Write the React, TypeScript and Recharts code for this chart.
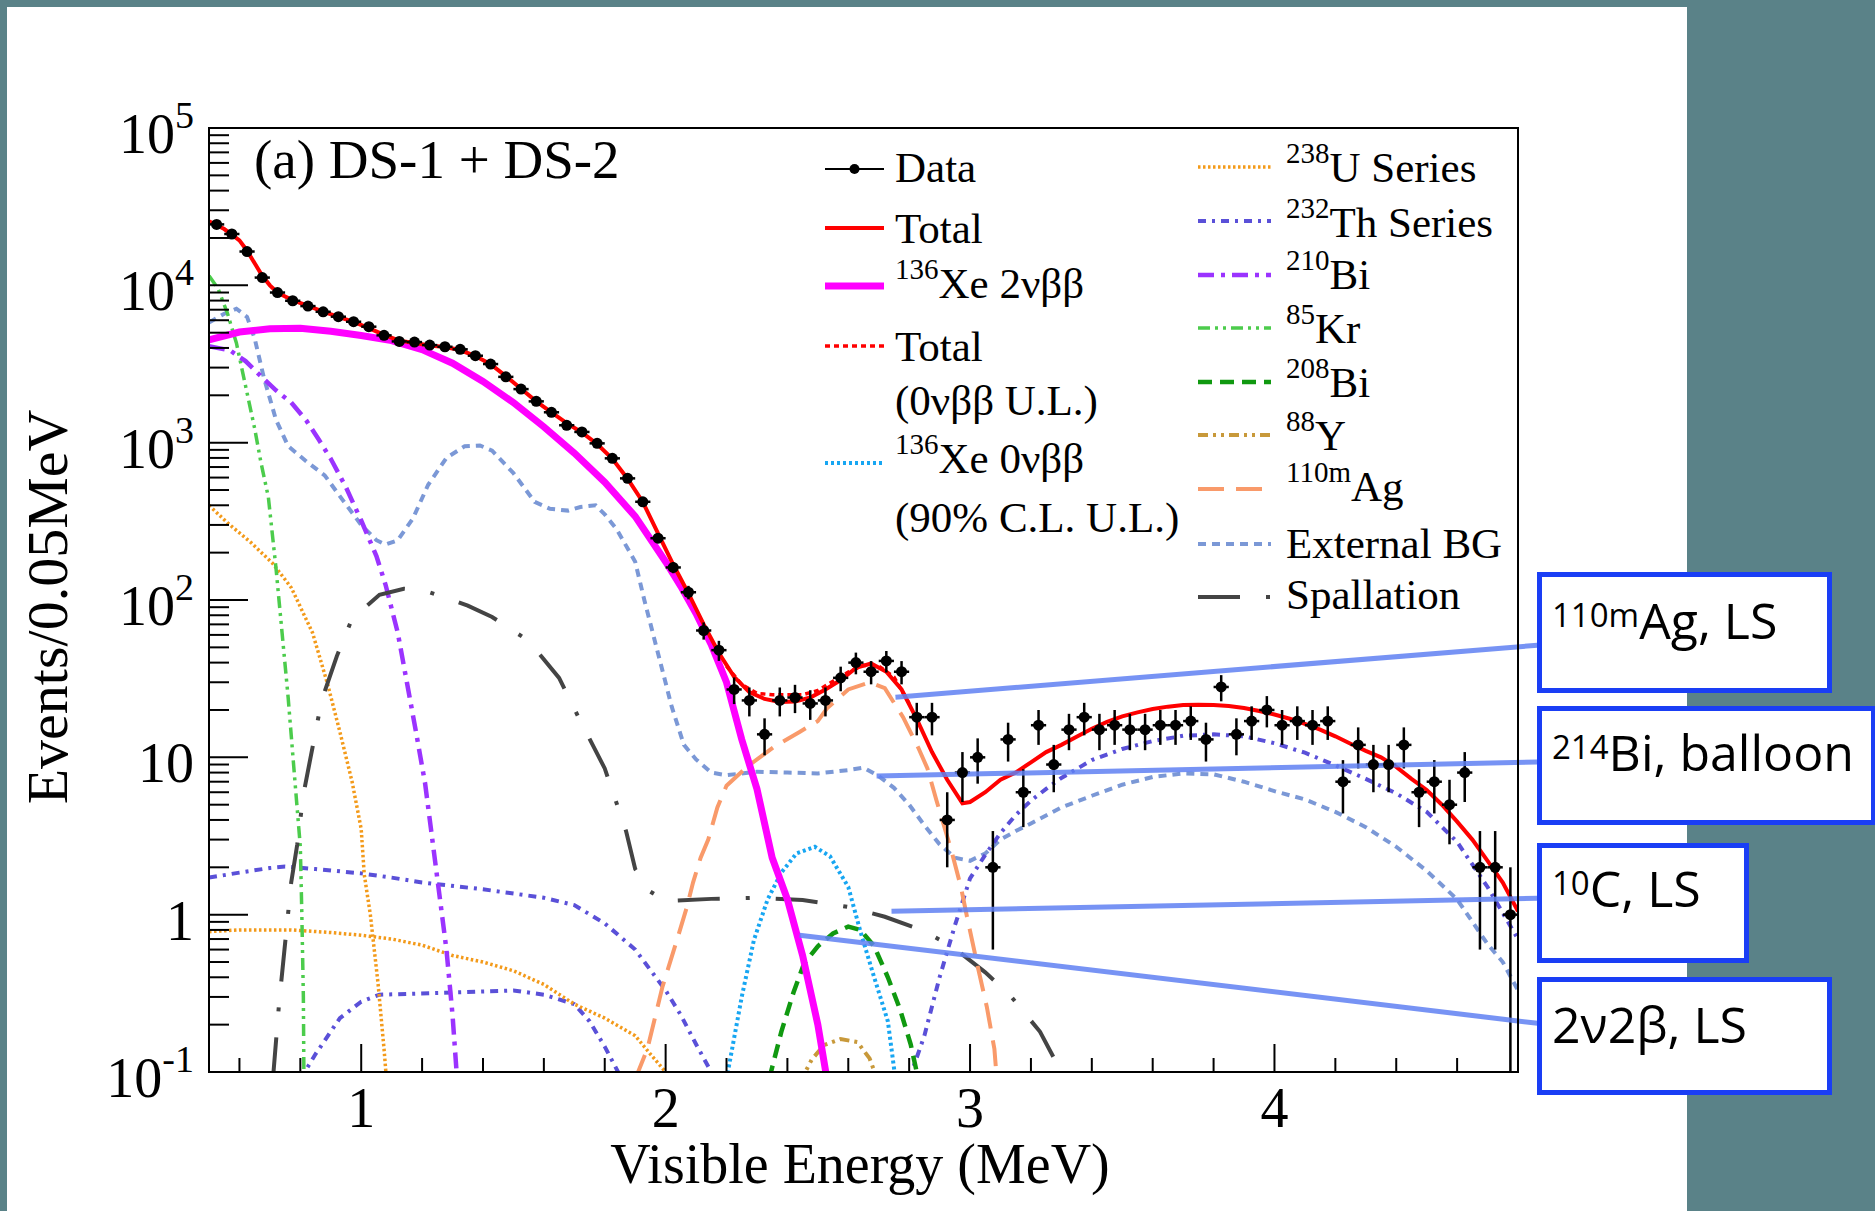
import React from "react";
import { ComposedChart, Line, Scatter, ErrorBar, XAxis, YAxis, ReferenceLine } from "recharts";

const SERIF = '"Liberation Serif", "Times New Roman", serif';
const SANS = '"Open Sans", "Noto Sans", sans-serif';
const TEAL = "#5a8288";

// axis ticks
const xMajor = [1, 2, 3, 4];
const xTicks = [0.6, 0.8, 1, 1.2, 1.4, 1.6, 1.8, 2, 2.2, 2.4, 2.6, 2.8, 3, 3.2, 3.4, 3.6, 3.8, 4, 4.2, 4.4, 4.6];
const yDecades = [0.1, 1, 10, 100, 1000, 10000, 100000];
const yMinor = [2, 3, 4, 5, 6, 7, 8, 9];
const yTicks = yDecades.flatMap((d, i) =>
  i === yDecades.length - 1 ? [d] : [d, ...yMinor.map((m) => +(d * m).toPrecision(3))]
);

// data points (bin centres, counts, errors)
const dataE = [
  0.525, 0.575, 0.625, 0.675, 0.725, 0.775, 0.825, 0.875, 0.925, 0.975,
  1.025, 1.075, 1.125, 1.175, 1.225, 1.275, 1.325, 1.375, 1.425, 1.475,
  1.525, 1.575, 1.625, 1.675, 1.725, 1.775, 1.825, 1.875, 1.925, 1.975,
  2.025, 2.075, 2.125, 2.175, 2.225, 2.275, 2.325, 2.375, 2.425, 2.475,
  2.525, 2.575, 2.625, 2.675, 2.725, 2.775, 2.825, 2.875, 2.925, 2.975,
  3.025, 3.075, 3.125, 3.175, 3.225, 3.275, 3.325, 3.375, 3.425, 3.475,
  3.525, 3.575, 3.625, 3.675, 3.725, 3.775, 3.825, 3.875, 3.925, 3.975,
  4.025, 4.075, 4.125, 4.175, 4.225, 4.275, 4.325, 4.375, 4.425, 4.475,
  4.525, 4.575, 4.625, 4.675, 4.725, 4.775,
];
const dataN = [
  24400, 21200, 16400, 11200, 9000, 7980, 7380, 6790, 6320, 5870,
  5460, 4810, 4400, 4360, 4170, 4070, 3920, 3570, 3160, 2620,
  2190, 1830, 1560, 1290, 1170, 990, 795, 593, 421, 247,
  161, 112, 64, 48, 27, 23, 14, 23, 24, 22,
  23, 32, 40, 35, 41, 35, 18, 18, 4, 8,
  10, 2, 13, 6, 16, 9, 15, 18, 15, 16,
  15, 15, 16, 16, 17, 13, 28, 14, 17, 20,
  16, 17, 16, 17, 7, 12, 9, 9, 12, 6,
  7, 5, 8, 2, 2, 1,
];
const dataErr = [
  156, 146, 128, 106, 95, 89, 86, 82, 80, 77,
  74, 69, 66, 66, 65, 64, 63, 60, 56, 51,
  47, 43, 39, 36, 34, 31, 28, 24, 21, 16,
  13, 11, 8, 7, 5.2, 4.8, 3.7, 4.8, 4.9, 4.7,
  4.8, 5.7, 6.3, 5.9, 6.4, 5.9, 4.2, 4.2, 2, 2.8,
  3.2, 1.4, 3.6, 2.4, 4, 3, 3.9, 4.2, 3.9, 4,
  3.9, 3.9, 4, 4, 4.1, 3.6, 5.3, 3.7, 4.1, 4.5,
  4, 4.1, 4, 4.1, 2.6, 3.5, 3, 3, 3.5, 2.4,
  2.6, 2.2, 2.8, 1.4, 1.4, 1,
];
const BIN_HALF = 0.025;

// model curves [E, events]
const total = [
  [0.5, 25500], [0.525, 24200], [0.55, 22800], [0.575, 21000], [0.6, 19300], [0.625, 16600], [0.65, 13800],
  [0.675, 11500], [0.7, 10000], [0.725, 9000], [0.75, 8500], [0.775, 8050], [0.825, 7400], [0.875, 6800],
  [0.925, 6300], [0.975, 5850], [1.025, 5350], [1.075, 4850], [1.125, 4450], [1.175, 4300], [1.225, 4150],
  [1.275, 4050], [1.325, 3880], [1.375, 3550], [1.425, 3150], [1.475, 2650], [1.525, 2200], [1.575, 1830],
  [1.625, 1560], [1.675, 1330], [1.725, 1160], [1.775, 980], [1.825, 790], [1.875, 590], [1.925, 420],
  [1.975, 265], [2.025, 168], [2.075, 110], [2.125, 70], [2.175, 46], [2.225, 32.5], [2.275, 26],
  [2.325, 23.5], [2.375, 22.5], [2.425, 22.6], [2.475, 24], [2.525, 27], [2.575, 31], [2.625, 37],
  [2.675, 39.5], [2.725, 35], [2.775, 27], [2.825, 17.5], [2.875, 10.8], [2.925, 7.2], [2.975, 5.1],
  [3.0, 5.2], [3.05, 6.0], [3.1, 7.2], [3.15, 8.0], [3.2, 9.3], [3.25, 10.8], [3.3, 12.0], [3.35, 13.5],
  [3.4, 15.2], [3.45, 16.8], [3.5, 18.2], [3.55, 19.3], [3.6, 20.3], [3.65, 21.0], [3.7, 21.5], [3.75, 21.6],
  [3.8, 21.5], [3.85, 21.2], [3.9, 20.6], [3.95, 19.7], [4.0, 18.7], [4.05, 17.6], [4.1, 16.3], [4.15, 15.0],
  [4.2, 13.6], [4.25, 12.2], [4.3, 11.0], [4.35, 10.0], [4.4, 8.7], [4.45, 7.3], [4.5, 6.2], [4.55, 5.0],
  [4.6, 3.9], [4.65, 3.0], [4.7, 2.2], [4.75, 1.6], [4.8, 1.05],
];
const totalUL = [
  [2.2, 38], [2.25, 29], [2.3, 25.5], [2.35, 25], [2.4, 25], [2.45, 25], [2.5, 26.6], [2.55, 30.5],
  [2.6, 34.8], [2.65, 38.5], [2.7, 38], [2.75, 32.4], [2.8, 22],
];
const xe2nu = [
  [0.5, 4500], [0.6, 5050], [0.7, 5300], [0.8, 5330], [0.9, 5100], [1.0, 4800], [1.1, 4450], [1.2, 3900],
  [1.3, 3200], [1.4, 2450], [1.5, 1800], [1.6, 1260], [1.7, 860], [1.8, 560], [1.9, 340], [2.0, 175],
  [2.05, 122], [2.1, 82], [2.15, 52], [2.2, 30], [2.25, 13], [2.3, 6.3], [2.35, 2.3], [2.4, 1.25],
  [2.45, 0.55], [2.5, 0.2], [2.53, 0.09],
];
const xe0nu = [
  [2.2, 0.09], [2.25, 0.3], [2.29, 0.69], [2.335, 1.25], [2.38, 1.85], [2.43, 2.45], [2.49, 2.7],
  [2.54, 2.35], [2.6, 1.5], [2.64, 0.78], [2.68, 0.43], [2.73, 0.21], [2.755, 0.09],
];
const u238High = [
  [0.5, 400], [0.56, 310], [0.64, 230], [0.71, 170], [0.77, 120], [0.84, 62], [0.89, 29], [0.93, 14.5],
  [0.97, 7], [1.0, 3.5], [1.01, 1.8], [1.03, 1.0], [1.055, 0.37], [1.075, 0.14], [1.085, 0.08],
];
const u238Low = [
  [0.5, 0.78], [0.6, 0.8], [0.77, 0.8], [0.9, 0.77], [1.0, 0.74], [1.1, 0.7], [1.2, 0.64], [1.3, 0.55],
  [1.4, 0.5], [1.5, 0.44], [1.6, 0.36], [1.7, 0.27], [1.8, 0.22], [1.9, 0.17], [1.95, 0.13], [2.0, 0.1],
  [2.02, 0.085],
];
const th232A = [
  [0.5, 1.72], [0.6, 1.85], [0.7, 1.98], [0.75, 2.02], [0.85, 1.95], [1.0, 1.83], [1.1, 1.72], [1.2, 1.6],
  [1.4, 1.45], [1.6, 1.28], [1.7, 1.15], [1.8, 0.88], [1.9, 0.6], [2.0, 0.33], [2.05, 0.23], [2.1, 0.15],
  [2.15, 0.1], [2.18, 0.08],
];
const th232B = [
  [0.8, 0.09], [0.85, 0.13], [0.93, 0.22], [1.0, 0.28], [1.06, 0.31], [1.3, 0.32], [1.5, 0.33], [1.6, 0.31],
  [1.7, 0.27], [1.75, 0.21], [1.8, 0.145], [1.85, 0.095],
];
const th232C = [
  [2.8, 0.09], [2.85, 0.17], [2.9, 0.4], [2.95, 0.85], [3.0, 1.7], [3.05, 2.4], [3.1, 3.3], [3.15, 4.3],
  [3.2, 5.3], [3.25, 6.3], [3.3, 7.4], [3.4, 9.6], [3.5, 11.3], [3.6, 12.7], [3.7, 13.7], [3.8, 14.0],
  [3.9, 13.6], [4.0, 12.3], [4.1, 10.7], [4.2, 8.9], [4.3, 7.3], [4.4, 5.9], [4.5, 4.5], [4.6, 2.9],
  [4.7, 1.5], [4.8, 0.7],
];
const bi210 = [
  [0.5, 4100], [0.57, 3850], [0.62, 3300], [0.67, 2650], [0.72, 2150], [0.77, 1800], [0.82, 1380],
  [0.86, 1050], [0.9, 790], [0.95, 520], [1.0, 320], [1.05, 190], [1.08, 125], [1.12, 62], [1.15, 30],
  [1.18, 14.5], [1.21, 6.8], [1.23, 3.4], [1.25, 1.7], [1.28, 0.6], [1.3, 0.23], [1.315, 0.09],
];
const kr85 = [
  [0.5, 11500], [0.53, 9500], [0.56, 6700], [0.59, 4300], [0.62, 2300], [0.65, 1230], [0.67, 760],
  [0.695, 450], [0.72, 160], [0.74, 62], [0.76, 24], [0.78, 8], [0.8, 2.7], [0.805, 1.0], [0.81, 0.3],
  [0.812, 0.08],
];
const bi208 = [
  [2.34, 0.09], [2.38, 0.18], [2.42, 0.32], [2.455, 0.49], [2.5, 0.63], [2.55, 0.76], [2.6, 0.84],
  [2.64, 0.8], [2.685, 0.63], [2.73, 0.4], [2.77, 0.25], [2.805, 0.15], [2.83, 0.09],
];
const y88 = [
  [2.44, 0.085], [2.48, 0.12], [2.52, 0.148], [2.575, 0.162], [2.63, 0.155], [2.67, 0.122], [2.7, 0.085],
];
const ag110m = [
  [1.9, 0.09], [1.94, 0.14], [1.99, 0.35], [2.04, 0.72], [2.07, 1.12], [2.09, 1.6], [2.115, 2.3],
  [2.14, 3.0], [2.17, 4.8], [2.2, 6.6], [2.27, 8.8], [2.36, 11.8], [2.44, 14.5], [2.5, 17], [2.53, 20.5],
  [2.6, 27], [2.67, 30], [2.72, 27.5], [2.78, 18], [2.83, 11.5], [2.86, 8.5], [2.89, 5.3], [2.94, 2.5],
  [2.97, 1.5], [2.99, 0.97], [3.025, 0.47], [3.055, 0.26], [3.08, 0.14], [3.09, 0.08],
];
const externalBg = [
  [0.5, 5800], [0.55, 6600], [0.59, 7100], [0.625, 6300], [0.65, 4600], [0.68, 2600], [0.72, 1400],
  [0.76, 950], [0.82, 760], [0.88, 620], [0.94, 430], [1.0, 300], [1.05, 240], [1.08, 225], [1.12, 240],
  [1.17, 330], [1.22, 540], [1.28, 800], [1.34, 950], [1.39, 960], [1.43, 890], [1.5, 640], [1.57, 420],
  [1.62, 380], [1.68, 370], [1.72, 390], [1.77, 400], [1.8, 350], [1.84, 280], [1.9, 175], [1.93, 100],
  [1.97, 50], [2.02, 21], [2.06, 12], [2.1, 9.7], [2.15, 8.0], [2.2, 7.7], [2.3, 8.1], [2.4, 8.0],
  [2.5, 7.9], [2.6, 8.3], [2.65, 8.6], [2.7, 7.6], [2.75, 6.4], [2.8, 5.0], [2.85, 3.7], [2.9, 2.8],
  [2.95, 2.3], [3.0, 2.2], [3.05, 2.45], [3.1, 3.0], [3.15, 3.4], [3.2, 3.8], [3.3, 4.8], [3.4, 5.7],
  [3.5, 6.7], [3.6, 7.5], [3.7, 7.9], [3.8, 7.8], [3.9, 7.0], [4.0, 6.1], [4.1, 5.4], [4.2, 4.5],
  [4.3, 3.6], [4.4, 2.7], [4.5, 1.9], [4.6, 1.25], [4.7, 0.65], [4.75, 0.5], [4.8, 0.33],
];
const spallation = [
  [0.71, 0.09], [0.73, 0.27], [0.77, 1.6], [0.79, 2.8], [0.81, 5.8], [0.87, 23], [0.92, 44], [0.97, 76],
  [1.06, 108], [1.14, 118], [1.2, 116], [1.28, 103], [1.35, 92], [1.43, 78], [1.55, 55], [1.65, 32],
  [1.72, 17], [1.8, 8.5], [1.87, 3.4], [1.9, 1.95], [1.95, 1.4], [2.0, 1.22], [2.15, 1.26], [2.3, 1.28],
  [2.45, 1.24], [2.6, 1.12], [2.72, 0.97], [2.84, 0.8], [2.94, 0.63], [3.05, 0.43], [3.13, 0.31],
  [3.23, 0.18], [3.3, 0.1], [3.33, 0.08],
];

// callout lines to the side boxes, in data coordinates
const calloutFrom = [[2.755, 24.1], [2.693, 7.6], [2.742, 1.05], [2.44, 0.741]];
const calloutTo = [[4.864, 51.6], [4.864, 9.33], [4.864, 1.27], [4.864, 0.204]];

const pts = (a: number[][]) => a.map(([x, y]) => ({ x, y }));
const dataPts = dataE.map((x, i) => ({
  x,
  y: dataN[i],
  ey: [Math.min(dataErr[i], dataN[i] - 0.1), dataErr[i]],
  ex: BIN_HALF,
}));

const S = {
  total: { stroke: "#ff0000", w: 4, dash: undefined },
  totalUL: { stroke: "#ff0000", w: 3.5, dash: "5 4" },
  xe2: { stroke: "#ff00ff", w: 7, dash: undefined },
  xe0: { stroke: "#17a6f2", w: 4, dash: "3 3" },
  u238: { stroke: "#f39a1a", w: 3.5, dash: "2.5 2.5" },
  th232: { stroke: "#5a50d8", w: 4, dash: "8 6 3 6" },
  bi210: { stroke: "#9b33ff", w: 4.5, dash: "16 7 4 7" },
  kr85: { stroke: "#4ccc4c", w: 3.5, dash: "12 5 3 5 3 5" },
  bi208: { stroke: "#109910", w: 4.5, dash: "14 8" },
  y88: { stroke: "#c8993a", w: 4, dash: "10 5 3 5 3 5" },
  ag110: { stroke: "#f99a6a", w: 4, dash: "26 12" },
  ext: { stroke: "#7b98d6", w: 4, dash: "8 6" },
  spall: { stroke: "#444444", w: 4, dash: "42 26 4 26" },
};

function curve(key: string, data: number[][], s: { stroke: string; w: number; dash?: string }) {
  return (
    <Line
      key={key}
      data={pts(data)}
      dataKey="y"
      type="linear"
      stroke={s.stroke}
      strokeWidth={s.w}
      strokeDasharray={s.dash}
      dot={false}
      activeDot={false}
      isAnimationActive={false}
    />
  );
}

function XTick(props: any) {
  const { x, y, payload } = props;
  const v = payload.value as number;
  const major = xMajor.includes(v);
  return (
    <g>
      <line x1={x} x2={x} y1={y} y2={y - (major ? 28 : 14)} stroke="#000" strokeWidth={2} />
      {major && (
        <text x={x} y={y + 55} textAnchor="middle" fontFamily={SERIF} fontSize={56} fill="#000">
          {v}
        </text>
      )}
    </g>
  );
}

function YTick(props: any) {
  const { x, y, payload } = props;
  const v = payload.value as number;
  const lg = Math.log10(v);
  const e = Math.round(lg);
  const major = Math.abs(lg - e) < 1e-6;
  return (
    <g>
      <line x1={x} x2={x + (major ? 39 : 20)} y1={y} y2={y} stroke="#000" strokeWidth={2} />
      {major && (
        <text x={x - 15} y={y + 25} textAnchor="end" fontFamily={SERIF} fontSize={56} fill="#000">
          {e === 0 ? "1" : "10"}
          {e !== 0 && e !== 1 && (
            <tspan fontSize={38} dy={-25}>
              {e}
            </tspan>
          )}
        </text>
      )}
    </g>
  );
}

function Lbl({ x, y, sup, text }: { x: number; y: number; sup?: string; text: string }) {
  return (
    <text x={x} y={y} fontFamily={SERIF} fontSize={43} fill="#000">
      {sup && (
        <tspan fontSize={29} dy={-19}>
          {sup}
        </tspan>
      )}
      <tspan dy={sup ? 19 : 0}>{text}</tspan>
    </text>
  );
}

function Sample({ x1, x2, y, s }: { x1: number; x2: number; y: number; s: { stroke: string; w: number; dash?: string } }) {
  return <line x1={x1} x2={x2} y1={y} y2={y} stroke={s.stroke} strokeWidth={s.w} strokeDasharray={s.dash} />;
}

const boxes = [
  { x: 1539.5, y: 574.5, w: 290, h: 116, base: 639, sup: "110m", text: "Ag, LS" },
  { x: 1539.5, y: 708.5, w: 334, h: 114, base: 771, sup: "214", text: "Bi, balloon" },
  { x: 1539.5, y: 845.5, w: 207, h: 115, base: 907, sup: "10", text: "C, LS" },
  { x: 1539.5, y: 979.5, w: 290, h: 113, base: 1043, sup: "", text: "2ν2β, LS" },
];

export default function App() {
  const c1 = 825, c1e = 884, t1 = 895;
  const c2 = 1198, c2e = 1271, t2 = 1286;
  return (
    <div style={{ position: "absolute", left: 0, top: 0, width: 1875, height: 1211, background: TEAL, overflow: "hidden" }}>
      <div style={{ position: "absolute", left: 7, top: 7, width: 1680, height: 1204, background: "#fff" }} />
      <div style={{ position: "absolute", left: 0, top: 0 }}>
        <ComposedChart width={1875} height={1211} margin={{ top: 128, right: 357, bottom: 89, left: 109 }}>
          <XAxis
            type="number"
            dataKey="x"
            domain={[0.5, 4.8]}
            allowDataOverflow
            ticks={xTicks}
            interval={0}
            height={50}
            axisLine={false}
            tickLine={false}
            tickSize={0}
            tickMargin={0}
            tick={XTick}
          />
          <YAxis
            type="number"
            scale="log"
            domain={[0.1, 100000]}
            allowDataOverflow
            ticks={yTicks}
            interval={0}
            width={100}
            axisLine={false}
            tickLine={false}
            tickSize={0}
            tickMargin={0}
            tick={YTick}
          />
          {curve("ext", externalBg, S.ext)}
          {curve("thA", th232A, S.th232)}
          {curve("thB", th232B, S.th232)}
          {curve("thC", th232C, S.th232)}
          {curve("uH", u238High, S.u238)}
          {curve("uL", u238Low, S.u238)}
          {curve("kr", kr85, S.kr85)}
          {curve("bi210", bi210, S.bi210)}
          {curve("spall", spallation, S.spall)}
          {curve("ag", ag110m, S.ag110)}
          {curve("xe0", xe0nu, S.xe0)}
          {curve("bi208", bi208, S.bi208)}
          {curve("y88", y88, S.y88)}
          {curve("xe2", xe2nu, S.xe2)}
          {curve("totUL", totalUL, S.totalUL)}
          {curve("tot", total, S.total)}
          <Scatter
            data={dataPts}
            dataKey="y"
            fill="#000"
            isAnimationActive={false}
            shape={(p: any) => <circle cx={p.cx} cy={p.cy} r={5.5} fill="#000" />}
          >
            <ErrorBar dataKey="ey" direction="y" width={0} stroke="#000" strokeWidth={2.5} />
            <ErrorBar dataKey="ex" direction="x" width={0} stroke="#000" strokeWidth={2.5} />
          </Scatter>
          {calloutFrom.map((f, i) => (
            <ReferenceLine
              key={i}
              segment={[
                { x: f[0], y: f[1] },
                { x: calloutTo[i][0], y: calloutTo[i][1] },
              ]}
              ifOverflow="visible"
              stroke="#5f80f2"
              strokeOpacity={0.85}
              strokeWidth={5}
            />
          ))}
        </ComposedChart>
      </div>
      <svg width={1875} height={1211} style={{ position: "absolute", left: 0, top: 0, pointerEvents: "none" }}>
        <rect x={209} y={128} width={1309} height={944} fill="none" stroke="#000" strokeWidth={2} />
        <text x={254} y={178} fontFamily={SERIF} fontSize={55} fill="#000">
          (a) DS-1 + DS-2
        </text>
        <text
          transform="translate(67,607) rotate(-90)"
          textAnchor="middle"
          fontFamily={SERIF}
          fontSize={58}
          fill="#000"
        >
          Events/0.05MeV
        </text>
        <text x={860} y={1183} textAnchor="middle" fontFamily={SERIF} fontSize={56} fill="#000">
          Visible Energy (MeV)
        </text>

        {/* legend, left column */}
        <line x1={c1} x2={c1e} y1={169} y2={169} stroke="#000" strokeWidth={2} />
        <circle cx={(c1 + c1e) / 2} cy={169} r={5} fill="#000" />
        <Lbl x={t1} y={182} text="Data" />
        <Sample x1={c1} x2={c1e} y={228} s={S.total} />
        <Lbl x={t1} y={243} text="Total" />
        <Sample x1={c1} x2={c1e} y={286} s={S.xe2} />
        <Lbl x={t1} y={298} sup="136" text="Xe 2νββ" />
        <Sample x1={c1} x2={c1e} y={346} s={S.totalUL} />
        <Lbl x={t1} y={361} text="Total" />
        <Lbl x={t1} y={415} text="(0νββ U.L.)" />
        <Sample x1={c1} x2={c1e} y={463} s={S.xe0} />
        <Lbl x={t1} y={473} sup="136" text="Xe 0νββ" />
        <Lbl x={t1} y={532} text="(90% C.L. U.L.)" />

        {/* legend, right column */}
        <Sample x1={c2} x2={c2e} y={167} s={S.u238} />
        <Lbl x={t2} y={182} sup="238" text="U Series" />
        <Sample x1={c2} x2={c2e} y={221} s={S.th232} />
        <Lbl x={t2} y={237} sup="232" text="Th Series" />
        <Sample x1={c2} x2={c2e} y={275} s={S.bi210} />
        <Lbl x={t2} y={289} sup="210" text="Bi" />
        <Sample x1={c2} x2={c2e} y={328} s={S.kr85} />
        <Lbl x={t2} y={343} sup="85" text="Kr" />
        <Sample x1={c2} x2={c2e} y={382} s={S.bi208} />
        <Lbl x={t2} y={397} sup="208" text="Bi" />
        <Sample x1={c2} x2={c2e} y={435} s={S.y88} />
        <Lbl x={t2} y={450} sup="88" text="Y" />
        <Sample x1={c2} x2={c2e} y={489} s={S.ag110} />
        <Lbl x={t2} y={501} sup="110m" text="Ag" />
        <Sample x1={c2} x2={c2e} y={544} s={S.ext} />
        <Lbl x={t2} y={558} text="External BG" />
        <Sample x1={c2} x2={c2e} y={597} s={S.spall} />
        <Lbl x={t2} y={609} text="Spallation" />

        {/* side annotation boxes */}
        {boxes.map((b, i) => (
          <g key={i}>
            <rect x={b.x} y={b.y} width={b.w} height={b.h} fill="#fff" stroke="#1a3ef5" strokeWidth={5} />
            <text x={1552} y={b.base} fontFamily={SANS} fontSize={50} fill="#000">
              {b.sup && (
                <tspan fontSize={33} dy={-12}>
                  {b.sup}
                </tspan>
              )}
              <tspan dy={b.sup ? 12 : 0}>{b.text}</tspan>
            </text>
          </g>
        ))}
      </svg>
    </div>
  );
}
